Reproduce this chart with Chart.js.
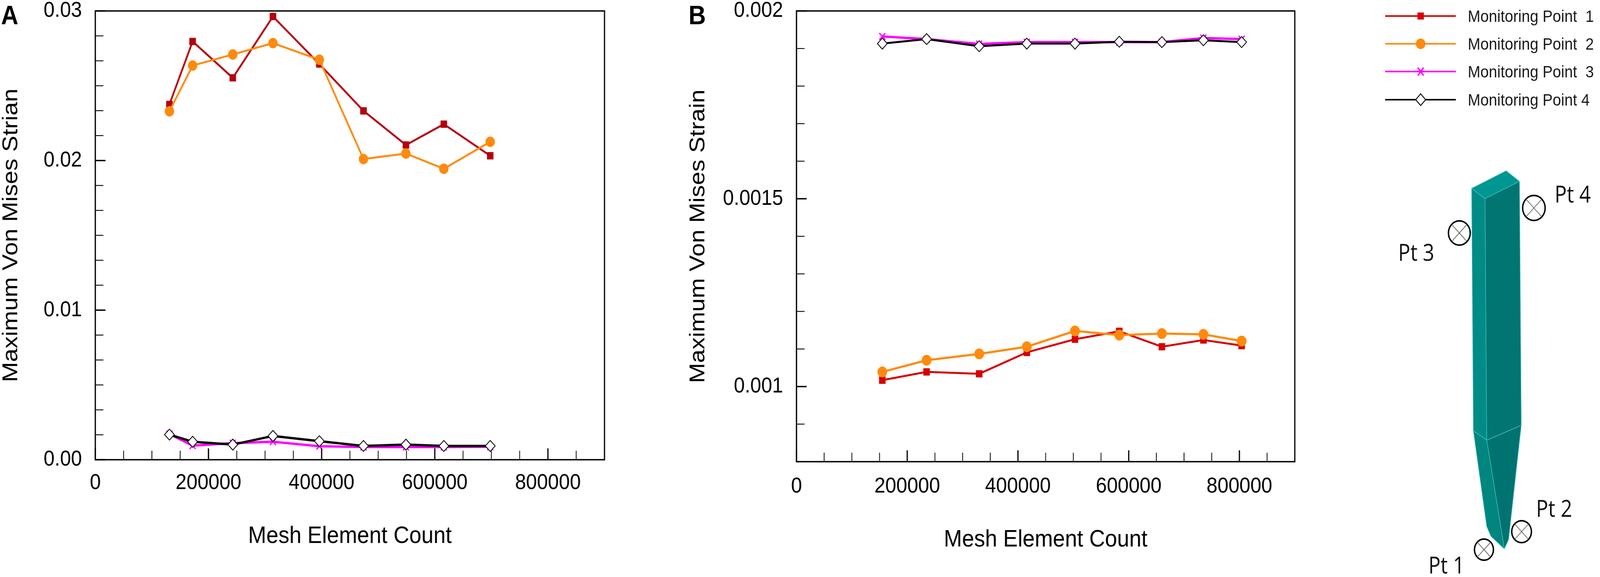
<!DOCTYPE html>
<html><head><meta charset="utf-8">
<script src="https://cdn.jsdelivr.net/npm/chart.js@4.4.1/dist/chart.umd.min.js"></script>
<style>
html,body{margin:0;padding:0;background:#fff;overflow:hidden;}
#wrap{position:relative;width:4550px;height:1476px;overflow:hidden;background:#fff;transform-origin:0 0;}
canvas{position:absolute;top:0;}
#cA{left:0;}
#cB{left:1900px;}
#art{position:absolute;left:0;top:0;pointer-events:none;}
</style></head><body>
<div id="wrap">
<canvas id="cA" width="1760" height="1476"></canvas>
<canvas id="cB" width="1800" height="1476"></canvas>
<svg id="art" width="4550" height="1476" viewBox="0 0 4550 1476" xmlns="http://www.w3.org/2000/svg"></svg>
</div>
<script>
// ---------------- DATA ----------------
const seriesNames = ['Monitoring Point  1', 'Monitoring Point  2', 'Monitoring Point  3', 'Monitoring Point 4'];

// Panel A
const meshA = [131000, 172000, 243000, 314000, 396000, 474000, 549000, 616000, 698000];
const strainA_pt1 = [0.02375, 0.02796, 0.02553, 0.02963, 0.02645, 0.02332, 0.02104, 0.02243, 0.02032];
const strainA_pt2 = [0.02329, 0.02635, 0.02709, 0.02785, 0.02674, 0.02010, 0.02047, 0.01945, 0.02125];
const strainA_pt3 = [0.00172, 0.00094, 0.00111, 0.00120, 0.00090, 0.00085, 0.00085, 0.00085, 0.00087];
const strainA_pt4 = [0.00168, 0.00120, 0.00101, 0.00159, 0.00124, 0.00092, 0.00101, 0.00092, 0.00092];

// Panel B
const meshB = [155000, 235000, 330000, 416000, 503000, 583000, 660000, 735000, 804000];
const strainB_pt1 = [0.001017, 0.001039, 0.001034, 0.001091, 0.001126, 0.001147, 0.001106, 0.001124, 0.001109];
const strainB_pt2 = [0.001039, 0.001070, 0.001087, 0.001106, 0.001148, 0.001137, 0.001141, 0.001139, 0.001121];
const strainB_pt3 = [0.001932, 0.001925, 0.001912, 0.001917, 0.001917, 0.001917, 0.001917, 0.001928, 0.001925];
const strainB_pt4 = [0.001913, 0.001925, 0.001906, 0.001913, 0.001913, 0.001918, 0.001917, 0.001922, 0.001917];

// Ticks
const xMajorTicks = [0, 200000, 400000, 600000, 800000];
const xTickLabels = ['0', '200000', '400000', '600000', '800000'];
const xMinorStep = 50000;
const xMin = 0, xMax = 900000;

const yMajorTicksA = [0, 0.01, 0.02, 0.03];
const yTickLabelsA = ['0.00', '0.01', '0.02', '0.03'];
const yMinorPerMajorA = 6;

const yMajorTicksB = [0.001, 0.0015, 0.002];
const yTickLabelsB = ['0.001', '0.0015', '0.002'];
const yMinB = 0.0008, yMaxB = 0.002, yMinorStepB = 0.0001;

const axisTitleX = 'Mesh Element Count';
const axisTitleYA = 'Maximum Von Mises Strian';
const axisTitleYB = 'Maximum Von Mises Strain';

// ---------------- STYLE ----------------
const FONT = "'Liberation Sans', Arial, Helvetica, sans-serif";
Chart.defaults.font.family = FONT;
Chart.defaults.color = '#000';

const stylesA = [
  {color: '#B5000C', fill: '#B5000C', style: 'rect', r: 12.5, pbw: 1, lw: 5, order: 3},
  {color: '#FF8A0D', fill: '#FF8A0D', style: 'circle', r: 13, pbw: 1, lw: 5, order: 2},
  {color: '#FF00FF', fill: '#FF00FF', style: 'crossRot', r: 12, pbw: 3.5, lw: 6, order: 1},
  {color: '#000000', fill: '#FFFFFF', style: 'rectRot', r: 14, pbw: 2.2, lw: 6, order: 0}
];
const stylesB = [
  {color: '#D60000', fill: '#D60000', style: 'rect', r: 12.5, pbw: 1, lw: 5, order: 3},
  {color: '#FF8A0D', fill: '#FF8A0D', style: 'circle', r: 13.5, pbw: 1, lw: 5.5, order: 2},
  {color: '#FF00FF', fill: '#FF00FF', style: 'crossRot', r: 12, pbw: 3.5, lw: 6, order: 1},
  {color: '#000000', fill: '#FFFFFF', style: 'rectRot', r: 14, pbw: 2.2, lw: 5, order: 0}
];

function makeDataset(name, xs, ys, st) {
  return {
    label: name,
    data: xs.map((x, i) => ({x: x, y: ys[i]})),
    borderColor: st.color,
    backgroundColor: st.fill,
    borderWidth: st.lw,
    pointStyle: st.style,
    pointRadius: st.r,
    pointHoverRadius: st.r,
    pointBackgroundColor: st.fill,
    pointBorderColor: st.color,
    pointBorderWidth: st.pbw,
    tension: 0,
    fill: false,
    order: st.order
  };
}

function near(a, b) { return Math.abs(a - b) < 1e-12 + Math.abs(b) * 1e-9; }

const frameTicks = {
  id: 'frameTicks',
  afterDatasetsDraw(chart) {
    const {ctx, chartArea: a, scales} = chart;
    const x = scales.x, y = scales.y;
    ctx.save();
    ctx.strokeStyle = '#000';
    ctx.lineCap = 'butt';
    x.ticks.forEach(t => {
      const px = x.getPixelForValue(t.value);
      const major = t.label !== '' && t.label !== undefined;
      ctx.lineWidth = major ? 3.5 : 2.2;
      ctx.beginPath();
      ctx.moveTo(px, a.bottom);
      ctx.lineTo(px, a.bottom - (major ? 29 : 23));
      ctx.stroke();
    });
    y.ticks.forEach(t => {
      const py = y.getPixelForValue(t.value);
      const major = t.label !== '' && t.label !== undefined;
      ctx.lineWidth = major ? 3.5 : 2.2;
      ctx.beginPath();
      ctx.moveTo(a.left, py);
      ctx.lineTo(a.left + (major ? 29 : 23), py);
      ctx.stroke();
    });
    ctx.lineWidth = 3.5;
    ctx.strokeRect(a.left, a.top, a.right - a.left, a.bottom - a.top);
    ctx.restore();
  }
};

function makeChart(id, cfg) {
  const xTickValues = [];
  for (let v = xMin; v <= xMax + 1; v += xMinorStep) xTickValues.push(v);
  return new Chart(document.getElementById(id), {
    type: 'line',
    data: {datasets: cfg.datasets},
    options: {
      responsive: false,
      devicePixelRatio: 1,
      animation: false,
      events: [],
      layout: {padding: {left: 0, right: cfg.padRight, top: 28, bottom: 0}},
      plugins: {legend: {display: false}, tooltip: {enabled: false}},
      scales: {
        x: {
          type: 'linear', min: xMin, max: xMax,
          grid: {display: false, drawTicks: false},
          border: {display: false},
          afterBuildTicks: s => { s.ticks = xTickValues.map(v => ({value: v})); },
          afterFit: s => { s.height = cfg.xHeight; s.paddingLeft = 0; s.paddingRight = 0; },
          ticks: {
            autoSkip: false, maxRotation: 0, minRotation: 0,
            padding: cfg.xTickPad,
            font: {size: 56},
            color: '#000',
            callback: v => { const k = xMajorTicks.findIndex(m => near(v, m)); return k >= 0 ? xTickLabels[k] : ''; }
          },
          title: {display: true, text: axisTitleX, font: {size: 62, lineHeight: 1}, color: '#000',
                  padding: {top: 0, bottom: cfg.xTitlePad}}
        },
        y: {
          type: 'linear', min: cfg.yMin, max: cfg.yMax,
          grid: {display: false, drawTicks: false},
          border: {display: false},
          afterBuildTicks: s => { s.ticks = cfg.yTickValues.map(v => ({value: v})); },
          afterFit: s => { s.width = cfg.yWidth; s.paddingTop = 0; s.paddingBottom = 0; },
          ticks: {
            autoSkip: false,
            padding: 38,
            font: {size: 56},
            color: '#000',
            callback: v => { const k = cfg.yMajor.findIndex(m => near(v, m)); return k >= 0 ? cfg.yLabels[k] : ''; }
          },
          title: {display: true, text: cfg.yTitle, font: {size: 62, lineHeight: 1}, color: '#000',
                  padding: {top: cfg.yTitlePad, bottom: 0}}
        }
      }
    },
    plugins: [frameTicks]
  });
}

// Panel A
const yTickValuesA = [];
for (let i = 0; i <= (yMajorTicksA.length - 1) * yMinorPerMajorA; i++) yTickValuesA.push(i * (yMajorTicksA[1] - yMajorTicksA[0]) / yMinorPerMajorA);
const ysA = [strainA_pt1, strainA_pt2, strainA_pt3, strainA_pt4];
makeChart('cA', {
  datasets: ysA.map((ys, i) => makeDataset(seriesNames[i], meshA, ys, stylesA[i])),
  padRight: 41, xHeight: 300, yWidth: 271, xTickPad: 26, xTitlePad: 73, yTitlePad: 1,
  yMin: 0, yMax: 0.03, yTickValues: yTickValuesA, yMajor: yMajorTicksA, yLabels: yTickLabelsA, yTitle: axisTitleYA
});

// Panel B
const yTickValuesB = [];
for (let i = 0; i <= Math.round((yMaxB - yMinB) / yMinorStepB); i++) yTickValuesB.push(Math.round((yMinB + i * yMinorStepB) * 1e7) / 1e7);
const ysB = [strainB_pt1, strainB_pt2, strainB_pt3, strainB_pt4];
makeChart('cB', {
  datasets: ysB.map((ys, i) => makeDataset(seriesNames[i], meshB, ys, stylesB[i])),
  padRight: 18, xHeight: 295, yWidth: 365, xTickPad: 30, xTitlePad: 64, yTitlePad: 55,
  yMin: yMinB, yMax: yMaxB, yTickValues: yTickValuesB, yMajor: yMajorTicksB, yLabels: yTickLabelsB, yTitle: axisTitleYB
});

// ---------------- LEGEND + ILLUSTRATION (SVG) ----------------
const legendColors = ['#D60000', '#FF8A0D', '#FF00FF', '#000000'];
const legendStyles = ['rect', 'circle', 'crossRot', 'rectRot'];
const legendRowsY = [41, 112, 183, 255];
function marker(style, cx, cy, color) {
  if (style === 'rect') return `<rect x="${cx-9}" y="${cy-9}" width="18" height="18" fill="${color}"/>`;
  if (style === 'circle') return `<circle cx="${cx}" cy="${cy}" r="13.5" fill="${color}"/>`;
  if (style === 'crossRot') return `<path d="M${cx-8} ${cy-10}L${cx+8} ${cy+10}M${cx+8} ${cy-10}L${cx-8} ${cy+10}" stroke="${color}" stroke-width="4" fill="none"/>`;
  return `<polygon points="${cx-14},${cy} ${cx},${cy-15} ${cx+14},${cy} ${cx},${cy+15}" fill="#fff" stroke="${color}" stroke-width="2.5"/>`;
}
const SVGFONT = FONT.replace(/'/g, '');
let svg = '';
svg += `<text x="3" y="62" font-family="${SVGFONT}" font-weight="bold" font-size="68" fill="#000">A</text>`;
svg += `<text x="1958" y="62" font-family="${SVGFONT}" font-weight="bold" font-size="68" fill="#000">B</text>`;
seriesNames.forEach((n, i) => {
  const y = legendRowsY[i];
  svg += `<line x1="3939" y1="${y}" x2="4140" y2="${y}" stroke="${legendColors[i]}" stroke-width="4"/>`;
  svg += marker(legendStyles[i], 4040, y, legendColors[i]);
  svg += `<text x="4174" y="${y + 15}" font-family="${SVGFONT}" font-size="43" fill="#1a1a1a" style="white-space:pre">${n}</text>`;
});
const edge = 'stroke="#3cbcba" stroke-width="1.6" stroke-linejoin="round"';
svg += `<polygon points="4185,482 4283,437 4321,464 4223,508" fill="#009692" ${edge}/>`;
svg += `<polygon points="4185,482 4223,508 4228,1126 4190,1102" fill="#008b87" ${edge}/>`;
svg += `<polygon points="4223,508 4321,464 4326,1088 4228,1126" fill="#007572" ${edge}/>`;
svg += `<polygon points="4190,1102 4228,1126 4278,1404 4240,1372 4228,1347" fill="#00857f" ${edge}/>`;
svg += `<polygon points="4228,1126 4326,1088 4290,1380 4278,1404" fill="#007370" ${edge}/>`;
const circles = [[4150, 596, 31], [4362, 532, 32], [4327, 1360, 28], [4220, 1406, 27]];
circles.forEach(([cx, cy, r]) => {
  const d = r * 0.7;
  svg += `<circle cx="${cx}" cy="${cy}" r="${r}" fill="none" stroke="#000" stroke-width="4"/>`;
  svg += `<path d="M${cx-d} ${cy-d}L${cx+d} ${cy+d}M${cx+d} ${cy-d}L${cx-d} ${cy+d}" stroke="#666" stroke-width="2"/>`;
});
const ptLabels = [['Pt 3', 3976, 667], ['Pt 4', 4421, 518], ['Pt 2', 4368, 1322], ['Pt 1', 4062, 1467]];
ptLabels.forEach(([t, x, y]) => {
  svg += `<text x="${x}" y="${y}" font-family="Open Sans, Noto Sans, sans-serif" font-size="60" fill="#111" textLength="103" lengthAdjust="spacingAndGlyphs">${t}</text>`;
});
document.getElementById('art').innerHTML = svg;

// Fit the 4550-wide layout into the actual viewport width (screen may be narrower).
(function fit() {
  const sx = Math.min(1, window.innerWidth / 4550);
  const sy = Math.min(1, window.innerHeight / 1476);
  if (sx < 1 || sy < 1) document.getElementById('wrap').style.transform = `scale(${sx}, ${sy})`;
})();
</script>
</body></html>
